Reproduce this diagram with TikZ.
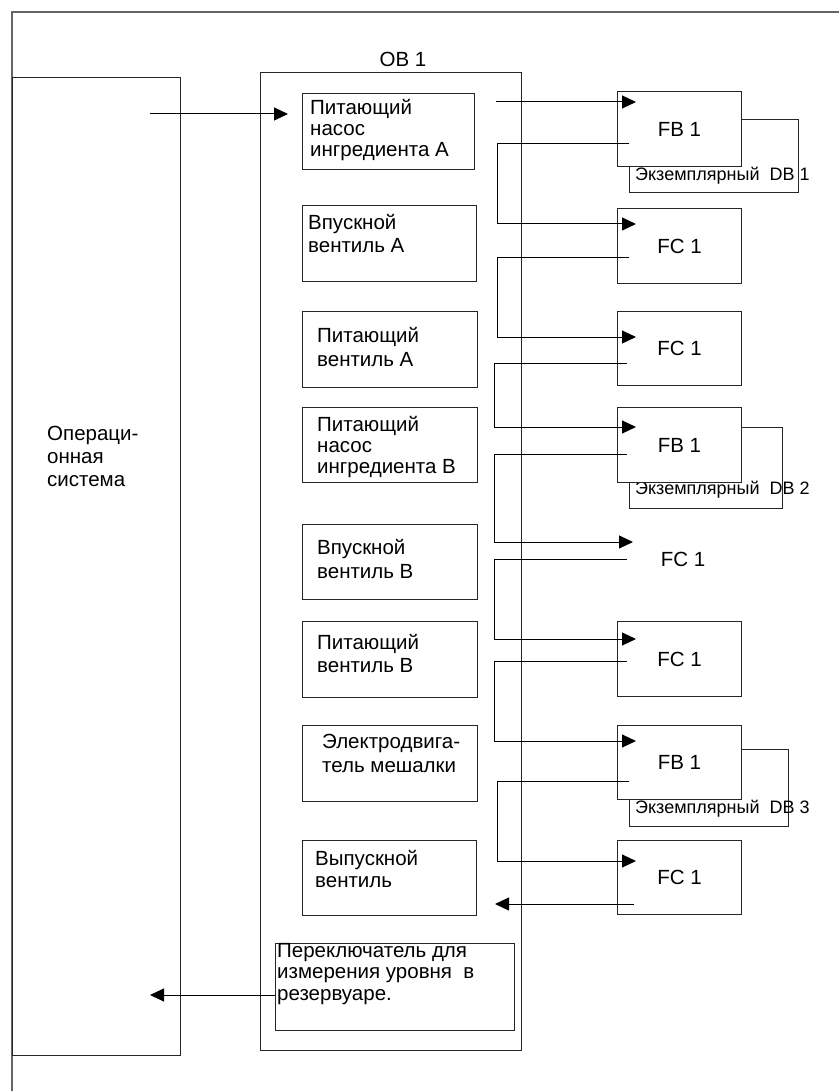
\documentclass[tikz,border=0pt]{standalone}
\usepackage{fontspec}
\setmainfont{Liberation Sans}
\usetikzlibrary{arrows.meta}
\newcommand\bx[7][]{\node[box,#1,minimum width={#5-#3},minimum height={#6-#4}] (#2) at (#3,#4) {#7};}
\newcommand\tx[5]{\node[lbl,font=\fontsize{20.5}{#4}\selectfont] (#1) at (#2,#3) {\rule{0pt}{20pt}#5};}
\begin{document}
\begin{tikzpicture}[x=1pt,y=-1pt,
  box/.style={draw=black!85, line width=1pt, inner sep=0pt, anchor=north west, font=\fontsize{20.5}{24}\selectfont},
  lbl/.style={anchor=north west, inner sep=0pt, align=left},
  dbl/.style={anchor=base west, inner sep=0pt, font=\fontsize{18}{20}\selectfont},
  arr/.style={-{Triangle[length=14pt,width=13pt]}, line width=1pt},
  ln/.style={line width=1pt}]
\useasboundingbox (0,0) rectangle (839,1091);
% frame
\draw[line width=1.2pt, black!60] (839,12) -- (12,12) -- (12,1091);
% operating system and OB1
\bx{os}{12}{77}{180}{1055}{}
\tx{ostext}{47}{420}{23}{Операци-\\онная\\система}
\bx{ob}{260}{72}{521}{1050}{}
\node[anchor=base, inner sep=0pt, font=\fontsize{20.5}{24}\selectfont] (obtext) at (403,67) {OB 1};
% blocks inside OB1
\bx{p1}{302}{93}{474}{169}{}
\tx{t1}{310}{94}{21}{Питающий\\насос\\ингредиента A}
\bx{p2}{302}{205}{476}{281}{}
\tx{t2}{308}{209}{23.5}{Впускной\\вентиль A}
\bx{p3}{302}{311}{477}{387}{}
\tx{t3}{317}{322}{24}{Питающий\\вентиль A}
\bx{p4}{302}{407}{477}{482}{}
\tx{t4}{317}{411}{21}{Питающий\\насос\\ингредиента B}
\bx{p5}{302}{524}{477}{599}{}
\tx{t5}{317}{534}{24}{Впускной\\вентиль B}
\bx{p6}{302}{621}{477}{697}{}
\tx{t6}{317}{629}{23}{Питающий\\вентиль B}
\bx{p7}{302}{725}{477}{801}{}
\tx{t7}{322}{728}{24}{Электродвига-\\тель мешалки}
\bx{p8}{302}{840}{476}{915}{}
\tx{t8}{315}{845}{22}{Выпускной\\вентиль}
\bx{p9}{275}{943}{514}{1030}{}
\tx{t9}{277}{937}{21.5}{Переключатель для\\измерения уровня\ \ в\\резервуаре.}
% instance DBs
\bx{dbA}{629}{119}{798}{192}{}
\bx{dbB}{629}{427}{782}{508}{}
\bx{dbC}{629}{749}{788}{826}{}
\node[dbl] (dbAt) at (635,181) {Экземплярный\ \ DB 1};
\node[dbl] (dbBt) at (635,494) {Экземплярный\ \ DB 2};
\node[dbl] (dbCt) at (635,813) {Экземплярный\ \ DB 3};
% FB / FC blocks
\bx[fill=white]{fbA}{617}{91}{741}{166}{FB 1}
\bx{fcA}{617}{208}{741}{283}{FC 1}
\bx{fcB}{617}{311}{741}{385}{FC 1}
\bx[fill=white]{fbB}{617}{407}{741}{482}{FB 1}
\node[inner sep=0pt, font=\fontsize{20.5}{24}\selectfont] (fcC) at (683,559) {FC 1};
\bx{fcD}{617}{621}{741}{696}{FC 1}
\bx[fill=white]{fbC}{617}{725}{741}{799}{FB 1}
\bx{fcE}{617}{840}{741}{914}{FC 1}
% connector end points
\coordinate (osout) at (150,114);
\coordinate (p1in) at (288,114);
\coordinate (p1out) at (496,102);
\coordinate (fbAin) at (636,102);
\coordinate (fbAout) at (629,144);
\coordinate (fcAin) at (636,224);
\coordinate (fcAout) at (629,257);
\coordinate (fcBin) at (636,337);
\coordinate (fcBout) at (627,363);
\coordinate (fbBin) at (636,427);
\coordinate (fbBout) at (627,454);
\coordinate (fcCin) at (633,542);
\coordinate (fcCout) at (627,559);
\coordinate (fcDin) at (636,639);
\coordinate (fcDout) at (627,661);
\coordinate (fbCin) at (636,741);
\coordinate (fbCout) at (629,781);
\coordinate (fcEin) at (636,861);
\coordinate (fcEout) at (634,904);
\coordinate (p8in) at (495,904);
\coordinate (p9out) at (275,995);
\coordinate (osin) at (150,995);
% connectors
\draw[arr] (osout) -- (p1in);
\draw[arr] (p1out) -- (fbAin);
\draw[arr] (fbAout) -- ++(-132,0) |- (fcAin);
\draw[arr] (fcAout) -- ++(-132,0) |- (fcBin);
\draw[arr] (fcBout) -- ++(-133,0) |- (fbBin);
\draw[arr] (fbBout) -- ++(-133,0) |- (fcCin);
\draw[arr] (fcCout) -- ++(-133,0) |- (fcDin);
\draw[arr] (fcDout) -- ++(-133,0) |- (fbCin);
\draw[arr] (fbCout) -- ++(-132,0) |- (fcEin);
\draw[arr] (fcEout) -- (p8in);
\draw[arr] (p9out) -- (osin);
\end{tikzpicture}
\end{document}
